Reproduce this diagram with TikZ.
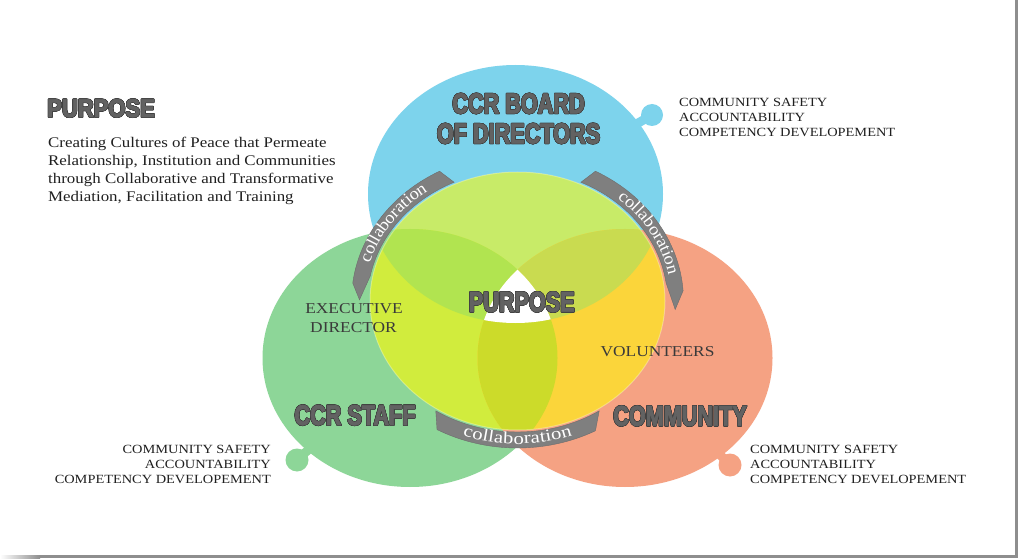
\documentclass[tikz,border=0pt]{standalone}
\usepackage{fontspec}
\setmainfont{Liberation Serif}
\newfontfamily\headfont[FakeStretch=0.76,FakeBold=2.5]{Liberation Sans}
\newfontfamily\titlefont[FakeStretch=0.86,FakeBold=2.5]{Liberation Sans}
\newfontfamily\serifw[FakeStretch=1.15]{Liberation Serif}
\newfontfamily\ribfont[FakeStretch=1.08]{Liberation Serif}
\newfontfamily\ribfontw[FakeStretch=1.22]{Liberation Serif}
\usepackage[copies]{contour}
\contourlength{0.45pt}
\usetikzlibrary{calc,decorations.text}
\definecolor{cB}{HTML}{7DD3EC}
\definecolor{cG}{HTML}{8DD698}
\definecolor{cO}{HTML}{F5A283}
\definecolor{cYB}{HTML}{C8EB68}
\definecolor{cYG}{HTML}{D1EC3D}
\definecolor{cYO}{HTML}{FBD53A}
\definecolor{cYBG}{HTML}{B1E450}
\definecolor{cYBO}{HTML}{C9DB50}
\definecolor{cYGO}{HTML}{CCDB2A}
\definecolor{ribc}{HTML}{7F7F7F}
\definecolor{headfill}{HTML}{626262}
\definecolor{headline}{HTML}{3E3E3E}
\definecolor{txtc}{HTML}{1F1F1F}
\definecolor{lblc}{HTML}{3A3A3A}
\definecolor{shadowc}{HTML}{8E8E8E}
\newcommand\hdtxt[1]{\contour{headline}{#1}}
\tikzset{
  er/.style={x radius=147.5, y radius=129},
  head/.style={font=\headfont\bfseries\fontsize{28.5}{28.5}\selectfont, text=headfill, inner sep=0pt, anchor=base},
  lbl/.style={font=\serifw\fontsize{15.1}{15.1}\selectfont, text=lblc, inner sep=0pt, anchor=base},
  lst/.style={font=\serifw\fontsize{12.5}{15}\selectfont, text=txtc, inner sep=0pt},
  ribbon/.style={fill=ribc, draw=ribc!85!black, line width=0.4pt},
  ribtext/.style={decorate, decoration={text along path, text align=center, raise=-4pt,
      text={|\ribfont\fontsize{17}{17}\selectfont\color{white}|collaboration}}},
  ribtextw/.style={decorate, decoration={text along path, text align=center, raise=-4pt,
      text={|\ribfontw\fontsize{17}{17}\selectfont\color{white}|collaboration}}},
}
\begin{document}
\begin{tikzpicture}[x=1pt,y=1pt]
\useasboundingbox (0,0) rectangle (1018,558);
\fill[white] (0,0) rectangle (1018,558);
% page shadow
\fill[shadowc] (1015,3) rectangle (1018,558);
\shade[left color=white, right color=shadowc] (0,0) rectangle (40,3);
\fill[shadowc] (40,0) rectangle (1018,3);

\coordinate (Bc) at (515.5,364);
\coordinate (Gc) at (410,200);
\coordinate (Oc) at (625,200);
\coordinate (Yc) at (517.5,257);
\coordinate (Bk) at (652,443);
\coordinate (Gk) at (297,98);
\coordinate (Ok) at (730,93);

% knobs
\fill[cB] (Bk) circle[radius=11];
\draw[cB, line width=9] (Bk) -- ($(Bk)!24pt!(Bc)$);
\fill[cG] (Gk) circle[radius=11.5];
\draw[cG, line width=9] (Gk) -- ($(Gk)!22pt!(Gc)$);
\fill[cO] (Ok) circle[radius=11.5];
\draw[cO, line width=9] (Ok) -- ($(Ok)!22pt!(Oc)$);

% base ellipses
\fill[cB] (Bc) ellipse[er];
\fill[cG] (Gc) ellipse[er];
\fill[cO] (Oc) ellipse[er];

% central ellipse regions
\begin{scope}
  \clip (Yc) ellipse[er];
  \fill[cYG] (Yc) ellipse[er];
  \fill[cYB] (Bc) ellipse[er];
  \fill[cYG] (Gc) ellipse[er];
  \fill[cYO] (Oc) ellipse[er];
  \begin{scope}
    \clip (Bc) ellipse[er];
    \fill[cYBG] (Gc) ellipse[er];
    \fill[cYBO] (Oc) ellipse[er];
  \end{scope}
  \begin{scope}
    \clip (Gc) ellipse[er];
    \fill[cYGO] (Oc) ellipse[er];
  \end{scope}
  \begin{scope}
    \clip (Bc) ellipse[er];
    \clip (Gc) ellipse[er];
    \fill[white] (Oc) ellipse[er];
  \end{scope}
\end{scope}
\draw[white, opacity=0.3, line width=1] (Yc) ellipse[er];

% ribbons
\fill[ribbon] ([shift={(Yc)}]118:166 and 147) arc[start angle=118, end angle=173, x radius=166, y radius=147]
  -- ([shift={(Yc)}]179.5:158 and 139) -- ([shift={(Yc)}]169:150 and 131)
  arc[start angle=169, end angle=115, x radius=150, y radius=131] -- cycle;
\fill[ribbon] ([shift={(Yc)}]62:166 and 147) arc[start angle=62, end angle=4, x radius=166, y radius=147]
  -- ([shift={(Yc)}]-3.5:158 and 139) -- ([shift={(Yc)}]8:150 and 131)
  arc[start angle=8, end angle=65, x radius=150, y radius=131] -- cycle;
\fill[ribbon] ([shift={(Yc)}]241:166 and 147) arc[start angle=241, end angle=298, x radius=166, y radius=147]
  -- ([shift={(Yc)}]303:150 and 131)
  arc[start angle=303, end angle=237, x radius=150, y radius=131] -- cycle;
\path[ribtext] ([shift={(Yc)}]173:158 and 139) arc[start angle=173, end angle=117, x radius=158, y radius=139];
\path[ribtext] ([shift={(Yc)}]60:158 and 139) arc[start angle=60, end angle=0, x radius=158, y radius=139];
\path[ribtextw] ([shift={(Yc)}]238:158 and 139) arc[start angle=238, end angle=302, x radius=158, y radius=139];

% headings
\node[head, font=\titlefont\bfseries\fontsize{25.6}{25.6}\selectfont, anchor=base west] (ptitle) at (47,441) {\hdtxt{PURPOSE}};
\node[head] (board1) at (518.5,444.7) {\hdtxt{CCR BOARD}};
\node[head] (board2) at (518.5,414.7) {\hdtxt{OF DIRECTORS}};
\node[head] (pcenter) at (521.7,246.3) {\hdtxt{PURPOSE}};
\node[head] (staff) at (355,133) {\hdtxt{CCR STAFF}};
\node[head] (community) at (680,132.3) {\hdtxt{COMMUNITY}};

% labels
\node[lbl] (exec1) at (354,244.7) {EXECUTIVE};
\node[lbl] (exec2) at (353.5,226) {DIRECTOR};
\node[lbl] (vol) at (657.5,202) {VOLUNTEERS};

% description
\node[font=\serifw\fontsize{14.7}{18}\selectfont, text=txtc, inner sep=0pt, align=left, anchor=north west] (pdesc) at (48,421)
  {Creating Cultures of Peace that Permeate\\Relationship, Institution and Communities\\through Collaborative and Transformative\\Mediation, Facilitation and Training};

% lists
\node[lst, align=left, anchor=north west] (listB) at (679,460)
  {COMMUNITY SAFETY\\ACCOUNTABILITY\\COMPETENCY DEVELOPEMENT};
\node[lst, align=right, anchor=north east] (listG) at (271,113)
  {COMMUNITY SAFETY\\ACCOUNTABILITY\\COMPETENCY DEVELOPEMENT};
\node[lst, align=left, anchor=north west] (listO) at (750,113)
  {COMMUNITY SAFETY\\ACCOUNTABILITY\\COMPETENCY DEVELOPEMENT};
\end{tikzpicture}
\end{document}
